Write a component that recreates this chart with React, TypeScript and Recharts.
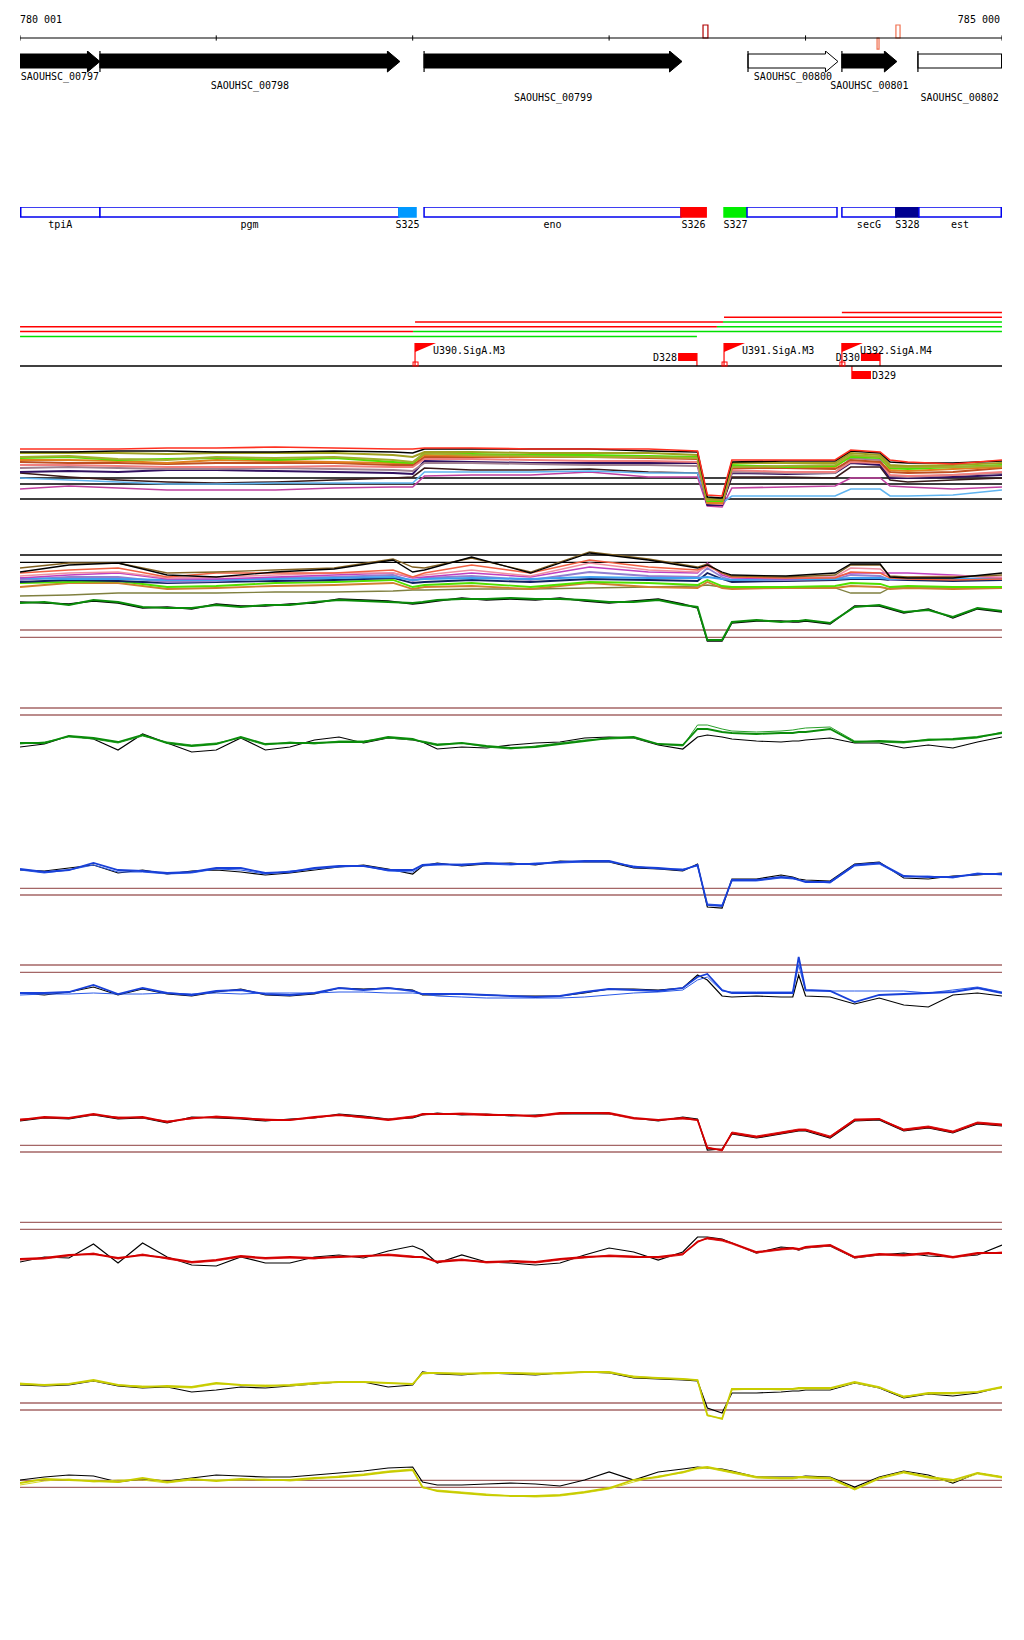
import React from "react";
import {
  ComposedChart,
  LineChart,
  Line,
  XAxis,
  YAxis,
  ReferenceLine,
  ReferenceArea,
  ReferenceDot,
} from "recharts";

const START = 780001;
const END = 785000;
const PLOT_LEFT = 20;
const PLOT_W = 982;
const MONO = "'DejaVu Sans Mono', monospace";
const LIMIT_COLOR = "#a46666";

// ---- ruler ----
const TICKS = [780001, 781000, 782000, 783000, 784000, 785000];
const TICK_LABELS = ["780 001", "", "", "", "", "785 000"];
const MARKERS = [
  { start: 783478, end: 783503, side: 1, kind: "strong" },
  { start: 784364, end: 784374, side: -1, kind: "weak" },
  { start: 784460, end: 784481, side: 1, kind: "weak" },
];

// ---- genes ----
const GENES = [
  { name: "SAOUHSC_00797", start: 780001, end: 780408, filled: true },
  { name: "SAOUHSC_00798", start: 780408, end: 781935, filled: true },
  { name: "SAOUHSC_00799", start: 782058, end: 783371, filled: true },
  { name: "SAOUHSC_00800", start: 783707, end: 784165, filled: false },
  { name: "SAOUHSC_00801", start: 784185, end: 784465, filled: true },
  { name: "SAOUHSC_00802", start: 784572, end: 785400, filled: false },
];

// ---- segments ----
const SEGMENTS = [
  { name: "tpiA", start: 780001, end: 780408 },
  { name: "pgm", start: 780408, end: 781930 },
  { name: "S325", start: 781930, end: 782017 },
  { name: "eno", start: 782058, end: 783366 },
  { name: "S326", start: 783366, end: 783494 },
  { name: "S327", start: 783585, end: 783702 },
  { name: "", start: 783702, end: 784160 },
  { name: "secG", start: 784185, end: 784460 },
  { name: "S328", start: 784460, end: 784577 },
  { name: "est", start: 784577, end: 785000 },
];
const SEG_FILL: Record<string, string> = {
  S325: "#0099ff",
  S326: "#ff0000",
  S327: "#00ee00",
  S328: "#000090",
};

// ---- transcript hits ----
const HITS = [
  { row: 0, start: 784185, end: 785000, kind: "up" },
  { row: 1, start: 783585, end: 785000, kind: "up" },
  { row: 2, start: 782012, end: 783580, kind: "up" },
  { row: 2, start: 783580, end: 785000, kind: "down" },
  { row: 3, start: 780001, end: 783549, kind: "up" },
  { row: 3, start: 783549, end: 785000, kind: "down" },
  { row: 4, start: 780001, end: 782002, kind: "up" },
  { row: 4, start: 782002, end: 785000, kind: "down" },
  { row: 5, start: 780001, end: 783447, kind: "down" },
];
const U_SITES = [
  { name: "U390.SigA.M3", pos: 782012 },
  { name: "U391.SigA.M3", pos: 783585 },
  { name: "U392.SigA.M4", pos: 784185 },
];
const D_SITES = [
  { name: "D328", start: 783351, end: 783447, strand: "+" },
  { name: "D330", start: 784282, end: 784379, strand: "+" },
  { name: "D329", start: 784236, end: 784333, strand: "-" },
];

// ---- bundle profiles ----
const POS_M = [780001, 780250, 780500, 780750, 781000, 781300, 781600, 781900, 782000, 782060, 782300, 782600, 782900, 783200, 783450, 783500, 783575, 783625, 783900, 784150, 784230, 784380, 784430, 784520, 784750, 785000];

const M1_A = [61, 61, 61, 62, 62, 63, 62, 61, 61, 62, 62, 61, 61, 61, 59, 15, 14, 50, 50, 50, 60, 58, 50, 48, 46, 50];
const M1_B = [58, 58, 59, 59, 58, 58, 59, 58, 57, 61, 61, 61, 61, 59, 58, 13, 12, 48, 49, 49, 59, 57, 48, 47, 47, 49];
const M1_C = [57, 57, 57, 56, 57, 57, 57, 55, 53, 58, 58, 57, 57, 57, 55, 11, 10, 47, 47, 47, 57, 55, 45, 44, 45, 47];
const M1_D = [52, 53, 50, 51, 52, 50, 52, 48, 47, 57, 56, 55, 55, 54, 53, 9, 9, 45, 43, 44, 53, 52, 42, 41, 43, 45];
const M1_E = [48, 47, 47, 46, 47, 47, 47, 45, 45, 53, 53, 53, 53, 52, 51, 8, 7, 42, 42, 41, 50, 48, 38, 37, 38, 42];
const M1_F = [45, 45, 44, 43, 43, 43, 44, 43, 43, 51, 51, 50, 49, 49, 48, 7, 6, 40, 38, 38, 48, 47, 35, 34, 35, 38];
const M1_G = [38, 39, 38, 40, 40, 39, 38, 37, 36, 49, 48, 47, 47, 47, 47, 5, 5, 37, 36, 37, 47, 45, 32, 32, 33, 35];
const M1_H = [37, 33, 30, 28, 27, 28, 30, 32, 33, 42, 40, 40, 41, 38, 37, 6, 5, 33, 33, 32, 43, 43, 30, 28, 30, 32];
const M1_I = [21, 24, 22, 20, 20, 20, 22, 23, 23, 34, 35, 35, 38, 33, 33, 4, 3, 22, 23, 24, 32, 32, 24, 23, 21, 23];
const M1_J = [32, 30, 28, 26, 26, 27, 27, 27, 27, 38, 38, 38, 39, 37, 37, 8, 7, 14, 14, 14, 21, 21, 14, 14, 15, 20];
const M1_K = [53, 54, 51, 50, 53, 52, 53, 50, 48, 57, 55, 54, 53, 53, 52, 10, 10, 43, 44, 45, 55, 53, 43, 43, 43, 44];
const M1_L = [42, 43, 42, 41, 41, 42, 41, 40, 39, 47, 47, 46, 45, 45, 44, 7, 6, 38, 37, 37, 52, 50, 34, 33, 35, 37];
const M1_M = [50, 50, 49, 47, 50, 49, 48, 47, 47, 55, 54, 53, 54, 53, 52, 7, 7, 44, 43, 43, 54, 53, 40, 39, 41, 43];
const M1_LIMITS = [32, 26, 11];

const M2_A = [33, 40, 42, 30, 28, 33, 36, 45, 33, 35, 48, 32, 52, 45, 37, 40, 33, 30, 29, 32, 41, 41, 28, 27, 27, 32];
const M2_B = [37, 42, 42, 32, 33, 35, 37, 46, 38, 37, 47, 33, 53, 46, 38, 41, 32, 29, 28, 30, 40, 40, 29, 28, 28, 30];
const M2_C = [32, 35, 37, 28, 32, 32, 32, 35, 28, 32, 40, 32, 45, 38, 35, 40, 32, 28, 27, 27, 33, 32, 27, 26, 25, 26];
const M2_D = [27, 30, 32, 26, 26, 28, 30, 32, 27, 28, 32, 28, 38, 33, 32, 42, 30, 27, 26, 28, 32, 32, 32, 32, 30, 27];
const M2_E = [27, 26, 26, 25, 25, 26, 27, 28, 25, 26, 27, 26, 28, 27, 27, 28, 26, 25, 26, 26, 27, 27, 26, 26, 26, 27];
const M2_F = [22, 23, 24, 18, 19, 22, 23, 25, 18, 20, 22, 18, 23, 22, 20, 25, 19, 18, 18, 19, 22, 21, 18, 19, 18, 18];
const M2_G = [18, 22, 22, 16, 17, 19, 20, 22, 16, 18, 19, 16, 22, 18, 17, 23, 17, 16, 17, 17, 19, 18, 16, 17, 16, 17];
const M2_H = [9, 10, 12, 12, 12, 13, 13, 14, 15, 15, 16, 16, 17, 18, 19, 20, 18, 17, 17, 17, 12, 12, 17, 17, 17, 18];
const M2_I = [23, 25, 24, 22, 23, 24, 25, 27, 22, 23, 25, 23, 26, 25, 24, 32, 26, 23, 24, 25, 26, 26, 25, 25, 24, 25];
const M2_J = [29, 32, 33, 27, 28, 30, 32, 32, 28, 30, 35, 29, 42, 35, 33, 39, 32, 28, 27, 28, 37, 36, 28, 28, 29, 28];
const M2_K = [25, 28, 28, 23, 24, 27, 28, 30, 24, 27, 29, 25, 33, 29, 28, 37, 28, 25, 25, 26, 30, 29, 25, 26, 26, 26];
const M2_LIMITS = [50, 42.7];

// ---- paired profiles ----
const POS = [780001, 780125, 780250, 780375, 780500, 780625, 780750, 780875, 781000, 781125, 781250, 781375, 781500, 781625, 781750, 781875, 782000, 782050, 782125, 782250, 782375, 782500, 782625, 782750, 782875, 783000, 783125, 783250, 783375, 783450, 783500, 783575, 783625, 783750, 783875, 783935, 783965, 784000, 784125, 784250, 784375, 784500, 784625, 784750, 784875, 785000];

const CORE_MAIN = [42, 43, 40, 45, 43, 38, 37, 37, 40, 38, 40, 40, 43, 45, 44, 43, 42, 43, 45, 46, 46, 47, 46, 46, 45, 43, 43, 45, 40, 38, 5, 5, 23, 25, 23, 24, 24, 25, 22, 38, 40, 33, 35, 28, 37, 34];
const CORE_REF = [43, 42, 41, 44, 42, 37, 38, 36, 41, 39, 39, 41, 42, 46, 45, 44, 41, 42, 44, 47, 45, 46, 45, 47, 44, 42, 44, 46, 41, 37, 4, 4, 22, 24, 24, 23, 23, 24, 21, 39, 39, 32, 36, 27, 36, 33];
const CORE_LIMITS = [15, 7.7];

const G_MAIN = [17, 17, 24, 22, 18, 25, 17, 14, 16, 23, 16, 17, 17, 18, 18, 23, 21, 18, 15, 17, 14, 12, 13, 16, 19, 22, 23, 16, 15, 31, 31, 28, 27, 26, 27, 27, 28, 28, 31, 18, 19, 18, 20, 21, 23, 27];
const G_ALT = [16, 18, 23, 21, 17, 24, 18, 15, 17, 22, 15, 18, 16, 19, 19, 22, 20, 19, 16, 17, 13, 11, 14, 17, 20, 21, 22, 16, 14, 35, 35, 31, 29, 28, 29, 30, 31, 32, 33, 19, 18, 17, 21, 20, 22, 28];
const G_REF = [13, 16, 24, 21, 10, 26, 17, 8, 10, 22, 10, 13, 20, 23, 17, 22, 20, 18, 11, 13, 12, 15, 17, 18, 22, 23, 22, 15, 11, 23, 25, 23, 21, 19, 18, 19, 19, 20, 22, 17, 17, 12, 15, 12, 18, 23];
const G_LIMITS = [52, 45];

const B_MAIN = [51, 48, 50, 57, 50, 49, 47, 48, 52, 52, 47, 48, 52, 54, 54, 50, 50, 55, 56, 55, 57, 56, 56, 58, 59, 59, 53, 52, 50, 55, 15, 14, 40, 40, 43, 42, 40, 38, 38, 55, 57, 44, 43, 43, 46, 46];
const B_ALT = [50, 47, 50, 55, 48, 48, 46, 47, 51, 50, 46, 49, 51, 53, 54, 49, 48, 54, 55, 56, 56, 55, 57, 57, 58, 58, 54, 51, 51, 54, 16, 15, 39, 39, 42, 41, 40, 39, 37, 54, 56, 43, 44, 42, 47, 45];
const B_REF = [50, 49, 52, 55, 47, 50, 46, 49, 50, 48, 45, 47, 50, 53, 55, 51, 46, 54, 57, 54, 56, 57, 55, 59, 58, 58, 52, 51, 49, 56, 13, 12, 41, 41, 45, 43, 41, 40, 39, 56, 58, 42, 41, 44, 45, 47];
const B_LIMITS = [31.7, 25];

const B2_MAIN = [27, 27, 28, 35, 26, 32, 27, 25, 29, 30, 26, 25, 27, 32, 30, 32, 29, 26, 26, 26, 25, 24, 23, 24, 28, 31, 30, 29, 32, 43, 46, 30, 27, 27, 27, 27, 63, 30, 29, 18, 25, 26, 27, 28, 32, 27];
const B2_ALT = [25, 26, 26, 27, 26, 26, 27, 26, 27, 26, 27, 27, 27, 28, 28, 27, 27, 26, 24, 23, 22, 22, 22, 22, 23, 25, 27, 28, 30, 40, 43, 29, 28, 28, 28, 28, 55, 29, 29, 29, 29, 29, 27, 30, 33, 28];
const B2_REF = [27, 25, 28, 33, 25, 31, 26, 24, 28, 31, 25, 24, 26, 32, 31, 32, 30, 25, 25, 26, 25, 24, 24, 24, 27, 31, 31, 30, 32, 45, 40, 24, 23, 24, 23, 23, 45, 24, 23, 16, 22, 15, 13, 25, 27, 24];
const B2_LIMITS = [55, 47.7];

const R_MAIN = [50, 53, 52, 56, 52, 53, 48, 52, 53, 52, 50, 50, 53, 55, 53, 50, 53, 56, 56, 56, 55, 55, 54, 57, 57, 57, 52, 50, 52, 50, 22, 20, 37, 33, 37, 39, 40, 40, 33, 50, 51, 40, 43, 38, 47, 45];
const R_ALT = [51, 52, 52, 55, 53, 52, 49, 51, 54, 52, 51, 50, 52, 55, 52, 51, 54, 55, 56, 57, 56, 55, 53, 56, 57, 56, 51, 50, 51, 50, 23, 19, 38, 34, 38, 40, 41, 41, 34, 51, 51, 41, 44, 39, 48, 46];
const R_REF = [49, 52, 51, 55, 51, 52, 47, 53, 52, 51, 49, 51, 52, 56, 54, 51, 52, 55, 57, 55, 56, 54, 55, 56, 56, 56, 52, 49, 53, 51, 20, 21, 36, 32, 36, 38, 39, 39, 32, 49, 50, 39, 42, 37, 46, 44];
const R_LIMITS = [24.7, 18];

const R2_MAIN = [31, 32, 35, 36, 32, 35, 32, 28, 30, 34, 32, 33, 32, 33, 34, 35, 33, 33, 28, 30, 28, 29, 28, 31, 33, 34, 33, 33, 36, 48, 52, 50, 47, 38, 41, 42, 41, 43, 45, 33, 36, 35, 37, 33, 37, 37];
const R2_ALT = [30, 31, 34, 37, 31, 36, 31, 27, 29, 33, 31, 32, 31, 34, 33, 36, 34, 32, 29, 31, 27, 28, 27, 30, 32, 35, 34, 32, 35, 49, 51, 49, 46, 37, 40, 41, 40, 42, 44, 32, 35, 34, 36, 32, 36, 38];
const R2_REF = [28, 33, 32, 46, 27, 47, 33, 25, 24, 33, 27, 27, 33, 35, 32, 39, 44, 40, 27, 35, 28, 27, 25, 27, 35, 42, 38, 30, 38, 53, 53, 51, 47, 37, 43, 42, 40, 42, 44, 32, 35, 37, 34, 33, 35, 45];
const R2_LIMITS = [67.7, 60.7];

const Y_MAIN = [46, 45, 46, 50, 45, 43, 44, 43, 47, 45, 44, 45, 47, 48, 48, 47, 46, 57, 57, 56, 57, 57, 56, 57, 58, 58, 53, 52, 51, 50, 15, 11, 41, 41, 41, 41, 42, 42, 42, 48, 43, 33, 37, 37, 38, 43];
const Y_ALT = [47, 45, 46, 49, 45, 44, 43, 42, 46, 45, 45, 44, 46, 48, 48, 47, 46, 56, 57, 57, 56, 57, 57, 56, 58, 57, 54, 52, 51, 50, 14, 12, 40, 41, 40, 41, 41, 41, 41, 47, 42, 34, 36, 36, 38, 42];
const Y_REF = [45, 44, 45, 49, 44, 42, 43, 38, 40, 43, 42, 44, 46, 48, 48, 43, 45, 58, 56, 55, 57, 56, 55, 57, 58, 57, 52, 51, 50, 49, 22, 17, 37, 37, 38, 39, 39, 40, 40, 47, 42, 32, 36, 34, 37, 43];
const Y_LIMITS = [27, 20];

const Y2_MAIN = [37, 41, 40, 39, 38, 42, 38, 41, 39, 41, 40, 40, 42, 43, 45, 48, 50, 33, 29, 27, 25, 24, 24, 25, 28, 32, 40, 43, 48, 52, 53, 50, 48, 43, 42, 42, 43, 43, 42, 31, 42, 48, 43, 40, 47, 43];
const Y2_ALT = [35, 39, 41, 38, 40, 40, 37, 40, 40, 40, 41, 39, 41, 44, 46, 49, 51, 32, 30, 28, 26, 24, 23, 24, 27, 31, 38, 44, 47, 51, 52, 49, 47, 42, 41, 41, 42, 42, 41, 30, 41, 47, 42, 38, 46, 42];
const Y2_REF = [40, 43, 45, 44, 38, 41, 39, 42, 45, 44, 43, 43, 45, 47, 49, 52, 53, 38, 35, 35, 36, 37, 36, 34, 40, 48, 40, 48, 51, 53, 52, 51, 49, 43, 43, 43, 43, 44, 43, 33, 43, 49, 45, 37, 47, 43];
const Y2_LIMITS = [39.7, 32.7];

type Series = { key: string; values: number[]; color: string; width: number };

function toRows(pos: number[], series: Series[]) {
  return pos.map((p, i) => {
    const row: Record<string, number> = { pos: p };
    series.forEach((s) => (row[s.key] = s.values[i]));
    return row;
  });
}

function SignalTrack({ top, height, pos, series, limits, limitColor }: {
  top: number; height: number; pos: number[]; series: Series[]; limits: number[]; limitColor: string;
}) {
  return (
    <div style={{ position: "absolute", left: PLOT_LEFT, top, width: PLOT_W, height }}>
      <LineChart width={PLOT_W} height={height} data={toRows(pos, series)} margin={{ top: 0, right: 0, bottom: 0, left: 0 }}>
        <XAxis type="number" dataKey="pos" domain={[START, END]} hide allowDataOverflow />
        <YAxis type="number" domain={[0, height]} hide allowDataOverflow />
        {limits.map((v, i) => (
          <ReferenceLine key={i} y={v} stroke={limitColor} strokeWidth={1.3} ifOverflow="visible" />
        ))}
        {series.map((s) => (
          <Line key={s.key} type="linear" dataKey={s.key} stroke={s.color} strokeWidth={s.width}
            dot={false} activeDot={false} isAnimationActive={false} />
        ))}
      </LineChart>
    </div>
  );
}

function paired(main: number[], alt: number[], ref: number[], color: string, altColor: string): Series[] {
  return [
    { key: "ref", values: ref, color: "#000", width: 1.2 },
    { key: "alt", values: alt, color: altColor, width: 1 },
    { key: "main", values: main, color, width: 1.8 },
  ];
}

function RulerTick(props: any) {
  const { x, payload } = props;
  const i = TICKS.indexOf(payload.value);
  const label = TICK_LABELS[i];
  if (!label) return <g />;
  const last = i === TICKS.length - 1;
  return (
    <text x={last ? x - 2 : x} y={13} textAnchor={i === 0 ? "start" : last ? "end" : "middle"}
      fontFamily={MONO} fontSize={10} fill="#000">{label}</text>
  );
}

const LABEL_ROWS = [8, 17, 29];

function GeneGlyph({ x, y, width, height, gene, row }: any) {
  const x0 = Math.max(x, 0);
  const cut = x + width > PLOT_W + 0.5;
  const x1 = Math.min(x + width, PLOT_W - 0.5);
  const head = 12.5;
  const bt = y + 3;
  const bb = y + height - 4;
  const fill = gene.filled ? "#000" : "#fff";
  const body = cut ? (
    <rect x={x0} y={bt} width={x1 - x0} height={bb - bt} fill={fill} stroke="#000" strokeWidth={1} />
  ) : (
    <polygon
      points={`${x0},${bt} ${x1 - head},${bt} ${x1 - head},${y} ${x1},${y + height / 2} ${x1 - head},${y + height} ${x1 - head},${bb} ${x0},${bb}`}
      fill={fill} stroke="#000" strokeWidth={1} />
  );
  return (
    <g>
      {body}
      {gene.start > START && <line x1={x0} x2={x0} y1={y} y2={y + height} stroke="#000" strokeWidth={1.2} />}
      <text x={(x0 + x1) / 2} y={y + height + LABEL_ROWS[row]} textAnchor="middle" fontFamily={MONO} fontSize={10} fill="#000">
        {gene.name}
      </text>
    </g>
  );
}

function SegGlyph({ x, y, width, height, seg }: any) {
  const x0 = Math.max(x, 0.75);
  const x1 = Math.min(x + width, PLOT_W - 0.75);
  const fill = SEG_FILL[seg.name];
  return (
    <g>
      <rect x={x0} y={y} width={x1 - x0} height={height} fill={fill ?? "#fff"} stroke={fill ?? "#0000ee"} strokeWidth={1.5} />
      {seg.name && (
        <text x={(x0 + x1) / 2} y={y + height + 10.5} textAnchor="middle" fontFamily={MONO} fontSize={10} fill="#000">
          {seg.name}
        </text>
      )}
    </g>
  );
}

function FlagGlyph({ cx, cy, name }: any) {
  return (
    <g>
      <line x1={cx} y1={cy - 23} x2={cx} y2={cy} stroke="#f00" strokeWidth={1.2} />
      <polygon points={`${cx},${cy - 23} ${cx + 21},${cy - 23} ${cx},${cy - 14}`} fill="#f00" />
      <rect x={cx - 2} y={cy - 4} width={5} height={4} fill="none" stroke="#f00" strokeWidth={1} />
      <text x={cx + 18} y={cy - 12} fontFamily={MONO} fontSize={10} fill="#000">{name}</text>
    </g>
  );
}

function DGlyph({ x, y, width, height, site }: any) {
  const plus = site.strand === "+";
  return (
    <g>
      <rect x={x} y={y} width={width} height={height} fill="#f00" />
      {plus ? (
        <line x1={x + width} x2={x + width} y1={y} y2={y + height + 5} stroke="#f00" strokeWidth={1.2} />
      ) : (
        <line x1={x} x2={x} y1={y - 5} y2={y + height} stroke="#f00" strokeWidth={1.2} />
      )}
      <text x={plus ? x - 1 : x + width + 1} y={y + height} textAnchor={plus ? "end" : "start"}
        fontFamily={MONO} fontSize={10} fill="#000">{site.name}</text>
    </g>
  );
}

const noMargin = { top: 0, right: 0, bottom: 0, left: 0 };

function Ruler() {
  return (
    <div style={{ position: "absolute", left: PLOT_LEFT, top: 10, width: PLOT_W, height: 41 }}>
      <ComposedChart width={PLOT_W} height={41} data={TICKS.map((t) => ({ pos: t }))} margin={noMargin}>
        <XAxis type="number" dataKey="pos" orientation="top" domain={[START, END]} ticks={TICKS} interval={0}
          height={15} axisLine={false} tickLine={false} tick={(p: any) => <RulerTick {...p} />} allowDataOverflow />
        <YAxis type="number" domain={[-1, 1]} hide allowDataOverflow />
        <ReferenceLine y={0} stroke="#000" strokeWidth={1.2} ifOverflow="visible" />
        {TICKS.map((t) => (
          <ReferenceLine key={t} segment={[{ x: t, y: -0.2 }, { x: t, y: 0.2 }]} stroke="#000" strokeWidth={1} ifOverflow="visible" />
        ))}
        {MARKERS.map((m) => (
          <ReferenceArea key={m.start} x1={m.start} x2={m.end} y1={0} y2={m.side > 0 ? 1 : -0.85}
            fill="#fff" fillOpacity={1} stroke={m.kind === "strong" ? "#b00000" : "#f07050"} strokeWidth={1.2}
            ifOverflow="visible" />
        ))}
      </ComposedChart>
    </div>
  );
}

function Genes() {
  return (
    <div style={{ position: "absolute", left: PLOT_LEFT, top: 51, width: PLOT_W, height: 55 }}>
      <ComposedChart width={PLOT_W} height={55} data={GENES.map((g) => ({ pos: g.start }))} margin={{ top: 0, right: 0, bottom: 34, left: 0 }}>
        <XAxis type="number" dataKey="pos" domain={[START, END]} hide allowDataOverflow />
        <YAxis type="number" domain={[0, 1]} hide allowDataOverflow />
        {GENES.map((g, i) => (
          <ReferenceArea key={g.name} x1={g.start} x2={g.end} y1={0} y2={1} ifOverflow="visible"
            shape={(p: any) => <GeneGlyph {...p} gene={g} row={i % 3} />} />
        ))}
      </ComposedChart>
    </div>
  );
}

function Segments() {
  return (
    <div style={{ position: "absolute", left: PLOT_LEFT, top: 207, width: PLOT_W, height: 26 }}>
      <ComposedChart width={PLOT_W} height={26} data={SEGMENTS.map((s) => ({ pos: s.start }))} margin={{ top: 0, right: 0, bottom: 16, left: 0 }}>
        <XAxis type="number" dataKey="pos" domain={[START, END]} hide allowDataOverflow />
        <YAxis type="number" domain={[0, 1]} hide allowDataOverflow />
        {SEGMENTS.map((s) => (
          <ReferenceArea key={s.start} x1={s.start} x2={s.end} y1={0} y2={1} ifOverflow="visible"
            shape={(p: any) => <SegGlyph {...p} seg={s} />} />
        ))}
      </ComposedChart>
    </div>
  );
}

function Hits() {
  return (
    <div style={{ position: "absolute", left: PLOT_LEFT, top: 309.6, width: PLOT_W, height: 28.8 }}>
      <ComposedChart width={PLOT_W} height={28.8} data={HITS.map((h) => ({ pos: h.start }))} margin={noMargin}>
        <XAxis type="number" dataKey="pos" domain={[START, END]} hide allowDataOverflow />
        <YAxis type="number" domain={[-0.5, 5.5]} reversed hide allowDataOverflow />
        {HITS.map((h, i) => (
          <ReferenceLine key={i} segment={[{ x: h.start, y: h.row }, { x: h.end, y: h.row }]}
            stroke={h.kind === "up" ? "#ff0000" : "#00e000"} strokeWidth={1.5} ifOverflow="visible" />
        ))}
      </ComposedChart>
    </div>
  );
}

function Sites() {
  return (
    <div style={{ position: "absolute", left: PLOT_LEFT, top: 335, width: PLOT_W, height: 50 }}>
      <ComposedChart width={PLOT_W} height={50} data={U_SITES.map((u) => ({ pos: u.pos }))} margin={noMargin}>
        <XAxis type="number" dataKey="pos" domain={[START, END]} hide allowDataOverflow />
        <YAxis type="number" domain={[-19, 31]} hide allowDataOverflow />
        <ReferenceLine y={0} stroke="#000" strokeWidth={1.5} ifOverflow="visible" />
        {D_SITES.map((d) => (
          <ReferenceArea key={d.name} x1={d.start} x2={d.end} y1={d.strand === "+" ? 5 : -13} y2={d.strand === "+" ? 13 : -5}
            ifOverflow="visible" shape={(p: any) => <DGlyph {...p} site={d} />} />
        ))}
        {U_SITES.map((u) => (
          <ReferenceDot key={u.name} x={u.pos} y={0} r={0} ifOverflow="visible"
            shape={(p: any) => <FlagGlyph {...p} name={u.name} />} />
        ))}
      </ComposedChart>
    </div>
  );
}

const M1_SERIES: Series[] = [
  { key: "h", values: M1_H, color: "#3a1a1a", width: 1.6 },
  { key: "i", values: M1_I, color: "#c040a0", width: 1.6 },
  { key: "j", values: M1_J, color: "#60b4f0", width: 1.6 },
  { key: "g", values: M1_G, color: "#301060", width: 2 },
  { key: "l", values: M1_L, color: "#a08090", width: 2 },
  { key: "f", values: M1_F, color: "#f08080", width: 2 },
  { key: "e", values: M1_E, color: "#c05020", width: 2 },
  { key: "m", values: M1_M, color: "#e08020", width: 2 },
  { key: "d", values: M1_D, color: "#50e000", width: 2 },
  { key: "k", values: M1_K, color: "#a0b030", width: 2 },
  { key: "c", values: M1_C, color: "#a0a020", width: 2 },
  { key: "b", values: M1_B, color: "#000000", width: 1.6 },
  { key: "a", values: M1_A, color: "#ff3020", width: 1.6 },
];

const M2_SERIES: Series[] = [
  { key: "h", values: M2_H, color: "#808040", width: 1.3 },
  { key: "g", values: M2_G, color: "#d08030", width: 1.8 },
  { key: "f", values: M2_F, color: "#50e000", width: 1.8 },
  { key: "i", values: M2_I, color: "#102060", width: 1.8 },
  { key: "k", values: M2_K, color: "#9080d0", width: 1.8 },
  { key: "e", values: M2_E, color: "#40a0f0", width: 2 },
  { key: "d", values: M2_D, color: "#c040c0", width: 1.5 },
  { key: "j", values: M2_J, color: "#f090a0", width: 1.5 },
  { key: "c", values: M2_C, color: "#f06040", width: 1.5 },
  { key: "b", values: M2_B, color: "#806020", width: 1.3 },
  { key: "a", values: M2_A, color: "#000000", width: 1.3 },
];

export default function App() {
  return (
    <div style={{ position: "absolute", left: 0, top: 0, width: 1024, height: 1640, background: "#fff" }}>
      <Ruler />
      <Genes />
      <Segments />
      <Hits />
      <Sites />
      <SignalTrack top={430} height={80} pos={POS_M} series={M1_SERIES} limits={M1_LIMITS} limitColor="#000" />
      <SignalTrack top={545} height={60} pos={POS_M} series={M2_SERIES} limits={M2_LIMITS} limitColor="#000" />
      <SignalTrack top={585} height={60} pos={POS}
        series={[{ key: "ref", values: CORE_REF, color: "#000", width: 1.3 }, { key: "main", values: CORE_MAIN, color: "#0a8c0a", width: 2 }]}
        limits={CORE_LIMITS} limitColor={LIMIT_COLOR} />
      <SignalTrack top={700} height={60} pos={POS} series={paired(G_MAIN, G_ALT, G_REF, "#0a8c0a", "#2aa02a")} limits={G_LIMITS} limitColor={LIMIT_COLOR} />
      <SignalTrack top={840} height={80} pos={POS} series={paired(B_MAIN, B_ALT, B_REF, "#1840d8", "#2a5ae8")} limits={B_LIMITS} limitColor={LIMIT_COLOR} />
      <SignalTrack top={940} height={80} pos={POS} series={paired(B2_MAIN, B2_ALT, B2_REF, "#1840d8", "#2a5ae8")} limits={B2_LIMITS} limitColor={LIMIT_COLOR} />
      <SignalTrack top={1090} height={80} pos={POS} series={paired(R_MAIN, R_ALT, R_REF, "#d40000", "#e02020")} limits={R_LIMITS} limitColor={LIMIT_COLOR} />
      <SignalTrack top={1210} height={80} pos={POS} series={paired(R2_MAIN, R2_ALT, R2_REF, "#d40000", "#e02020")} limits={R2_LIMITS} limitColor={LIMIT_COLOR} />
      <SignalTrack top={1350} height={80} pos={POS} series={paired(Y_MAIN, Y_ALT, Y_REF, "#c8cc00", "#d4d820")} limits={Y_LIMITS} limitColor={LIMIT_COLOR} />
      <SignalTrack top={1440} height={80} pos={POS} series={paired(Y2_MAIN, Y2_ALT, Y2_REF, "#c8cc00", "#d4d820")} limits={Y2_LIMITS} limitColor={LIMIT_COLOR} />
    </div>
  );
}
